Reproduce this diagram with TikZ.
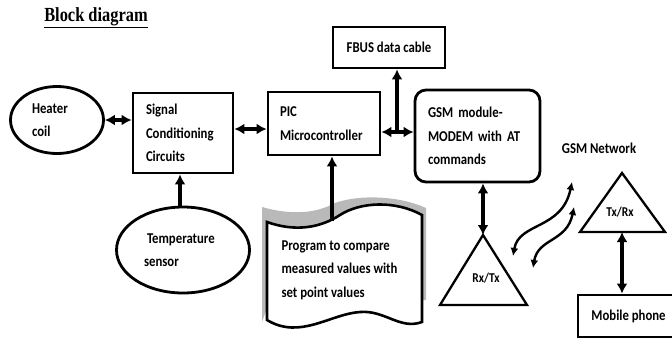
\documentclass[tikz,border=0pt]{standalone}
\usepackage{fontspec}
\setmainfont{Carlito}[FakeStretch=0.85]
\newfontfamily\titlefont{Liberation Serif}[FakeStretch=0.82]
\usetikzlibrary{arrows.meta,shapes.geometric}
\newcommand{\bodyfnt}{\bfseries\fontsize{15}{23.5}\selectfont}
\tikzset{
  blkbox/.style  = {draw, line width=2.8pt, align=left, font=\bodyfnt, inner sep=0pt},
  ovalbox/.style = {blkbox, ellipse},
  triline/.style = {line width=2.3pt, line join=miter},
  biarr/.style   = {{Latex[length=10pt,width=11pt]}-{Latex[length=10pt,width=11pt]}, line width=3.2pt},
  uparr/.style   = {-{Latex[length=10pt,width=11pt]}, line width=3.2pt},
  wavearr/.style = {{Latex[length=8pt,width=8pt]}-{Latex[length=8pt,width=8pt]}, line width=2.4pt}
}

\begin{document}
\begin{tikzpicture}[x=1pt,y=-1pt]
  % --- frame of the picture ------------------------------------------------
  \clip (0,0) rectangle (672,338);
  \fill[white] (0,0) rectangle (672,338);
  \node[font=\titlefont\bfseries\fontsize{20}{21}\selectfont] (title) at (96,18)
        {\underline{Block diagram}};

  % --- the plant side ------------------------------------------------------
  \node[ovalbox, minimum width=93pt, minimum height=67pt, text width=50pt]
        (heater) at (57,120) {Heater\\coil};
  \node[blkbox, minimum width=100pt, minimum height=80pt, text width=74pt]
        (sig) at (183,133) {Signal\\Conditioning\\Circuits};
  \node[ovalbox, minimum width=133pt, minimum height=86pt, text width=78pt]
        (temp) at (183,250) {\hspace*{3pt}Temperature\\sensor};

  % --- controller, cable and modem -----------------------------------------
  \node[blkbox, minimum width=112pt, minimum height=63pt, text width=88pt]
        (pic) at (324,123.5) {PIC\\Microcontroller};
  \node[blkbox, minimum width=112pt, minimum height=41pt, align=center]
        (fbus) at (389,47.5) {FBUS data cable};
  \node[blkbox, rounded corners=11pt, minimum width=125pt, minimum height=92pt,
        text width=99pt] (gsm) at (477.5,136) {GSM module-\\MODEM with AT\\commands};

  % --- the program, drawn as a sheet with a shadow --------------------------
  \fill[gray!55] (262,322) -- (262,207) .. controls (290,215) and (315,214) .. (335,203)
        .. controls (360,194) and (400,196) .. (426,208) -- (426,300) -- (270,300) -- cycle;
  \draw[fill=white, line width=2.6pt]
        (267,222) .. controls (295,232) and (320,228) .. (340,215)
        .. controls (360,202) and (395,200) .. (422,215) -- (422,322)
        .. controls (400,330) and (385,310) .. (360,312)
        .. controls (330,314) and (300,340) .. (267,320) -- cycle;
  \node[font=\bodyfnt, align=left, anchor=west] (prog) at (278,270)
        {Program to compare\\measured values with\\set point values};
  \coordinate (progtop) at (332,221);

  % --- the radio link ------------------------------------------------------
  \coordinate (rxapex) at (483,235);
  \draw[triline] (rxapex) -- (527,305) -- (440,305) -- cycle;
  \node[font=\bfseries\fontsize{13.5}{14}\selectfont] (rxlbl) at (486,278) {Rx/Tx};
  \coordinate (txapex) at (622,173);
  \coordinate (txbase) at (622,232);
  \draw[triline] (txapex) -- (665,232) -- (580,232) -- cycle;
  \node[font=\bfseries\fontsize{13.5}{14}\selectfont] (txlbl) at (620,212) {Tx/Rx};
  \node[font=\bodyfnt] (net) at (599,148) {GSM Network};
  \node[blkbox, minimum width=97pt, minimum height=42pt, align=center]
        (mobile) at (626.5,316) {\hspace*{4pt}Mobile phone};
  \coordinate (w1s) at (513,256);
  \coordinate (w1e) at (572,182);
  \coordinate (w2s) at (533,268);
  \coordinate (w2e) at (574,207);

  % --- connectors ----------------------------------------------------------
  \draw[biarr] (heater.east) -- (heater.east -| sig.west);
  \draw[biarr] ([yshift=4pt]sig.east) -- ([yshift=4pt]sig.east -| pic.west);
  \coordinate (jn) at (397,132);
  \draw[biarr] (jn -| pic.east) -- (jn -| gsm.west);
  \draw[uparr] (jn) -- (jn |- fbus.south);
  \draw[uparr] (temp.north -| 180,0) -- (sig.south -| 180,0);
  \draw[uparr] (progtop) -- (progtop |- pic.south);
  \draw[biarr] (rxapex) -- (rxapex |- gsm.south);
  \draw[biarr] (txbase) -- (txbase |- mobile.north);
  \draw[wavearr] (w1s) .. controls (519,222) and (562,230) .. (w1e);
  \draw[wavearr] (w2s) .. controls (538,238) and (567,242) .. (w2e);
\end{tikzpicture}
\end{document}
